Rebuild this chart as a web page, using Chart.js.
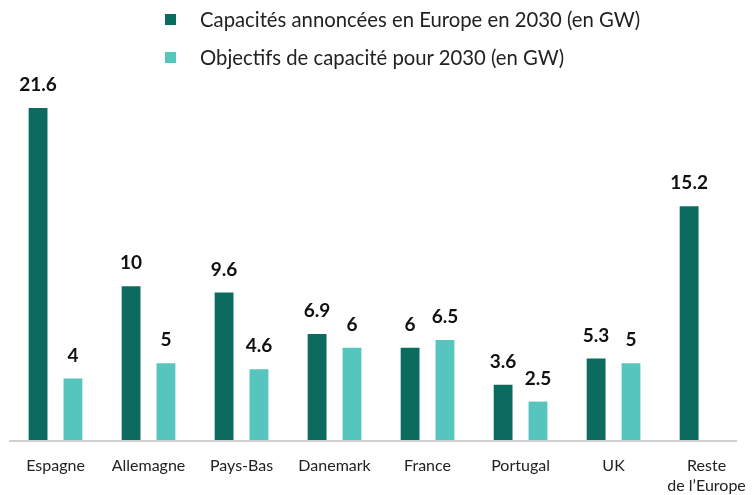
<!DOCTYPE html>
<html lang="fr">
<head>
<meta charset="utf-8">
<script src="https://cdn.jsdelivr.net/npm/chart.js@4/dist/chart.umd.min.js"></script>
<style>
  html, body { margin: 0; padding: 0; background: #fff; overflow: hidden; }
  #wrap { position: relative; width: 762px; height: 516px; }
  #legend { position: absolute; left: 165px; top: 0; font-family: Lato, "Open Sans", sans-serif; font-size: 20.3px; color: #222; }
  .item { position: absolute; left: 0; white-space: nowrap; display: flex; align-items: center; height: 24px; }
  .item .sw { width: 11px; height: 11px; margin-right: 24px; flex: none; }
</style>
</head>
<body>
<div id="wrap">
  <canvas id="chart" width="762" height="516"></canvas>
  <div id="legend"></div>
</div>
<script>
// Pays / régions
const categories = ['Espagne', 'Allemagne', 'Pays-Bas', 'Danemark', 'France', 'Portugal', 'UK', ['Reste', 'de l\u2019Europe']];
// Capacités annoncées en Europe en 2030 (GW)
const announced = [21.6, 10, 9.6, 6.9, 6, 3.6, 5.3, 15.2];
// Objectifs de capacité pour 2030 (GW)
const targets = [4, 5, 4.6, 6, 6.5, 2.5, 5, null];
const seriesNames = ['Capacités annoncées en Europe en 2030 (en GW)', 'Objectifs de capacité pour 2030 (en GW)'];
const seriesColors = ['#0c6b5f', '#55c5be'];

// Valeurs au-dessus des barres
const valueLabels = {
  id: 'valueLabels',
  afterDatasetsDraw(chart) {
    const ctx = chart.ctx;
    ctx.save();
    ctx.font = 'bold 19px Lato, "Open Sans", sans-serif';
    ctx.fillStyle = '#111';
    ctx.textAlign = 'center';
    ctx.textBaseline = 'middle';
    chart.data.datasets.forEach((ds, di) => {
      const meta = chart.getDatasetMeta(di);
      meta.data.forEach((bar, i) => {
        const v = ds.data[i];
        if (v === null || v === undefined) return;
        ctx.fillText(String(v), bar.x, bar.y - 23);
      });
    });
    ctx.restore();
  }
};

// Ligne de base grise
const baseLine = {
  id: 'baseLine',
  beforeDatasetsDraw(chart) {
    const { ctx, chartArea, scales } = chart;
    const y = scales.y.getPixelForValue(0);
    ctx.save();
    ctx.strokeStyle = '#d0d0d0';
    ctx.lineWidth = 2;
    ctx.beginPath();
    ctx.moveTo(chartArea.left, y + 1);
    ctx.lineTo(chartArea.right - 16, y + 1);
    ctx.stroke();
    ctx.restore();
  }
};

const chart = new Chart(document.getElementById('chart'), {
  type: 'bar',
  data: {
    labels: categories,
    datasets: [
      { label: seriesNames[0], data: announced, backgroundColor: seriesColors[0] },
      { label: seriesNames[1], data: targets, backgroundColor: seriesColors[1] }
    ]
  },
  options: {
    responsive: false,
    animation: false,
    layout: { padding: { left: 9, right: 3, top: 71, bottom: 4 } },
    datasets: { bar: { categoryPercentage: 0.75, barPercentage: 0.54 } },
    plugins: { legend: { display: false }, tooltip: { enabled: false } },
    scales: {
      x: {
        grid: { display: false, drawTicks: false },
        border: { display: false },
        ticks: {
          padding: 16,
          color: '#222',
          font: { family: 'Lato, "Open Sans", sans-serif', size: 16, lineHeight: 1.25 },
          maxRotation: 0,
          autoSkip: false
        }
      },
      y: { display: false, min: 0, max: 24 }
    }
  },
  plugins: [baseLine, valueLabels]
});

// Légende
const legend = document.getElementById('legend');
seriesNames.forEach((name, i) => {
  const item = document.createElement('div');
  item.className = 'item';
  item.style.top = (i === 0 ? 7 : 45) + 'px';
  const sw = document.createElement('span');
  sw.className = 'sw';
  sw.style.background = seriesColors[i];
  const txt = document.createElement('span');
  txt.textContent = name;
  item.appendChild(sw);
  item.appendChild(txt);
  legend.appendChild(item);
});
</script>
</body>
</html>
